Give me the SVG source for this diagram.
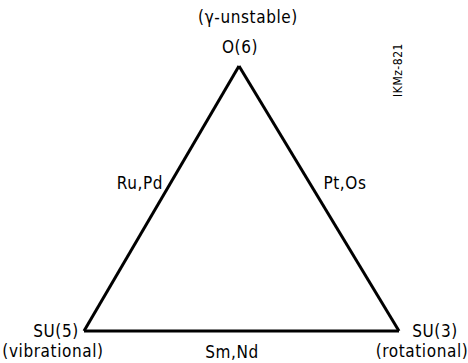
<svg xmlns="http://www.w3.org/2000/svg" width="468" height="363" viewBox="0 0 468 363">
<style>
text{font-family:"Liberation Sans Narrow","DejaVu Sans Condensed","Liberation Sans",sans-serif;font-size:17px;letter-spacing:0.6px;fill:#000;text-anchor:middle}
.edge{stroke:#000;stroke-width:3;fill:none;stroke-linejoin:miter}
</style>
<rect width="468" height="363" fill="#fff"/>
<g id="connectors">
<line class="edge" x1="239" y1="66" x2="84" y2="331"/>
<line class="edge" x1="239" y1="66" x2="399" y2="331"/>
<line class="edge" x1="84" y1="331" x2="399" y2="331"/>
<text x="140" y="189">Ru,Pd</text>
<text x="345" y="189">Pt,Os</text>
<text x="232" y="358">Sm,Nd</text>
</g>
<g id="node-o6">
<text x="248" y="23">(γ-unstable)</text>
<text x="240" y="53">O(6)</text>
</g>
<g id="node-su5">
<text x="56" y="337">SU(5)</text>
<text x="53" y="357">(vibrational)</text>
</g>
<g id="node-su3">
<text x="435" y="337">SU(3)</text>
<text x="422" y="357">(rotational)</text>
</g>
<text transform="translate(402,70) rotate(-90)" style="font-size:12px;letter-spacing:0.5px">IKMz-821</text>
</svg>
